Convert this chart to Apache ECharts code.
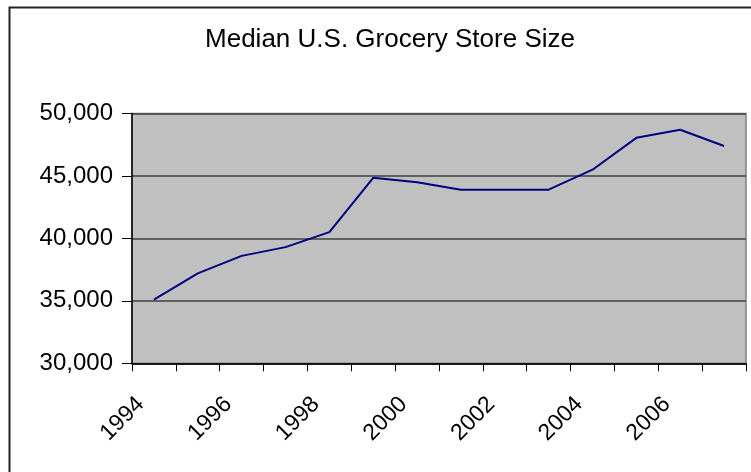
<!DOCTYPE html>
<html>
<head>
<meta charset="utf-8">
<script src="https://cdn.jsdelivr.net/npm/echarts@6/dist/echarts.min.js"></script>
<style>html,body{margin:0;padding:0;background:#fff}#c{width:751px;height:472px}</style>
</head>
<body>
<div id="c"></div>
<script>
var years = ['1994','1995','1996','1997','1998','1999','2000','2001','2002','2003','2004','2005','2006','2007'];
var storeSize = [35100, 37200, 38600, 39300, 40500, 44850, 44500, 43900, 43900, 43900, 45500, 48050, 48700, 47400];
var yTicks = {min: 30000, max: 50000, interval: 5000};
var titleText = 'Median U.S. Grocery Store Size';

var chart = echarts.init(document.getElementById('c'), null, {renderer: 'canvas'});
var font = 'Liberation Sans, Arial, sans-serif';
chart.setOption({
  animation: false,
  backgroundColor: '#fff',
  title: {
    text: titleText,
    left: 385, top: 22, textAlign: 'center',
    textStyle: {fontFamily: font, fontSize: 26, fontWeight: 'normal', color: '#000'}
  },
  graphic: [{
    type: 'rect', silent: true, z: -1,
    shape: {x: 9.5, y: 7.5, width: 800, height: 500},
    style: {fill: 'none', stroke: '#222', lineWidth: 2}
  }],
  grid: {
    left: 132, right: 5, top: 113.5, bottom: 108.7,
    show: true, backgroundColor: '#C0C0C0', borderColor: '#808080', borderWidth: 1.5
  },
  xAxis: {
    type: 'category', data: years, boundaryGap: true,
    axisLine: {lineStyle: {color: '#000', width: 1.5}},
    axisTick: {show: true, interval: 0, length: 8, lineStyle: {color: '#000', width: 1}},
    axisLabel: {interval: 1, rotate: 45, margin: 24, padding: [0, 19, 0, 0],
      fontFamily: font, fontSize: 23, color: '#000'},
    splitLine: {show: false}
  },
  yAxis: {
    type: 'value', min: yTicks.min, max: yTicks.max, interval: yTicks.interval,
    axisLine: {show: true, lineStyle: {color: '#000', width: 1.5}},
    axisTick: {show: true, length: 10, lineStyle: {color: '#000', width: 1}},
    axisLabel: {margin: 19, fontFamily: font, fontSize: 24, color: '#000',
      formatter: function (v) { return v.toLocaleString('en-US'); }},
    splitLine: {show: true, lineStyle: {color: '#404040', width: 1.5}}
  },
  series: [{
    type: 'line', data: storeSize, symbol: 'none',
    lineStyle: {color: '#000080', width: 2}
  }]
});
</script>
</body>
</html>
